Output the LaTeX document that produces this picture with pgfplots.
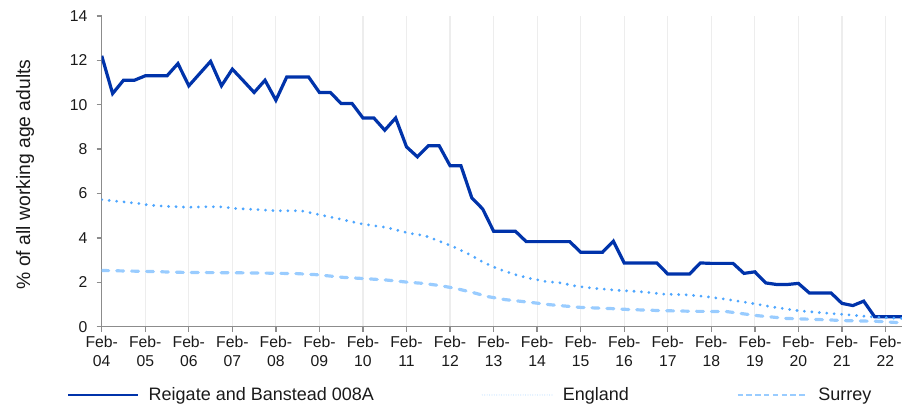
\documentclass[border=0pt]{standalone}
\usepackage{fontspec}
\setmainfont{Liberation Sans}
\usepackage{pgfplots}
\pgfplotsset{compat=1.18}
\definecolor{reig}{HTML}{0033AA}
\definecolor{eng}{HTML}{4DA6FF}
\definecolor{sur}{HTML}{99CCFF}
\definecolor{axgrey}{HTML}{8C8C8C}
\definecolor{gridc}{HTML}{EDEDED}
\definecolor{txt}{HTML}{1A1A1A}
\begin{document}
\begin{tikzpicture}
\begin{axis}[
  scale only axis, width=600.2pt, height=233.1pt,
  at={(0pt,0pt)}, anchor=south west,
  xmin=0, xmax=18.38, ymin=0, ymax=14,
  axis lines*=left,
  axis line style={axgrey, line width=1pt},
  tick style={axgrey, line width=1pt},
  tick align=outside, major tick length=3.8pt,
  xtick={0,1,...,18},
  xticklabels={{Feb-\\04},{Feb-\\05},{Feb-\\06},{Feb-\\07},{Feb-\\08},{Feb-\\09},{Feb-\\10},{Feb-\\11},{Feb-\\12},{Feb-\\13},{Feb-\\14},{Feb-\\15},{Feb-\\16},{Feb-\\17},{Feb-\\18},{Feb-\\19},{Feb-\\20},{Feb-\\21},{Feb-\\22}},
  xticklabel style={align=center, font=\fontsize{11.8}{14.2}\selectfont, text=txt},
  ytick={0,2,...,14},
  yticklabel style={font=\fontsize{11.8}{13}\selectfont, text=txt, xshift=-3.5pt},
  /pgf/number format/assume math mode=true,
  xmajorgrids, grid style={gridc, line width=0.9pt},
  ylabel={\% of all working age adults},
  ylabel style={at={(axis description cs:-0.0958,0.49)}, anchor=center, font=\fontsize{14.5}{16}\selectfont, text=txt},
  clip=true,
  legend image code/.code={\draw[#1] (0pt,0pt) -- (52.5pt,0pt);},
  legend columns=3,
  legend style={at={(-0.0434,-0.2198)}, anchor=west, draw=none, fill=none, inner sep=0pt,
    font=\fontsize{13.5}{15}\selectfont, text=txt,
    nodes={inner sep=0pt},
    /tikz/every odd column/.append style={column sep=7.5pt}},
  legend cell align=left,
]
\addplot[reig, line width=2.4pt, line join=miter, legend image post style={line width=1.1pt}] coordinates {
(0,12.2)(0.25,10.5)(0.5,11.1)(0.75,11.1)(1,11.3)(1.25,11.3)(1.5,11.3)(1.75,11.85)
(2,10.85)(2.25,11.4)(2.5,11.95)(2.75,10.85)(3,11.6)(3.25,11.08)(3.5,10.55)(3.75,11.1)
(4,10.2)(4.25,11.25)(4.5,11.25)(4.75,11.25)(5,10.55)(5.25,10.55)(5.5,10.05)(5.75,10.05)
(6,9.4)(6.25,9.4)(6.5,8.85)(6.75,9.4)(7,8.1)(7.25,7.65)(7.5,8.15)(7.75,8.15)
(8,7.25)(8.25,7.25)(8.5,5.8)(8.75,5.3)(9,4.3)(9.25,4.3)(9.5,4.3)(9.75,3.83)
(10,3.83)(10.25,3.83)(10.5,3.83)(10.75,3.83)(11,3.35)(11.25,3.35)(11.5,3.35)(11.75,3.85)
(12,2.87)(12.25,2.87)(12.5,2.87)(12.75,2.87)(13,2.37)(13.25,2.37)(13.5,2.37)(13.75,2.87)
(14,2.85)(14.25,2.85)(14.5,2.85)(14.75,2.4)(15,2.47)(15.25,1.97)(15.5,1.9)(15.75,1.9)
(16,1.95)(16.25,1.52)(16.5,1.52)(16.75,1.52)(17,1.05)(17.25,0.95)(17.5,1.15)(17.75,0.45)
(18,0.45)(18.25,0.45)(18.5,0.45)
};
\addlegendentry{\makebox[249.75pt][l]{Reigate and Banstead 008A}}
\addplot[eng, line width=2.3pt, line cap=round, dash pattern=on 0pt off 5.6pt,
  legend image post style={line width=0.9pt, dash pattern=on 0pt off 1.8pt, color=eng!35}] coordinates {
(0,5.72)(0.5,5.62)(0.92,5.53)(1.06,5.48)(1.5,5.42)(1.99,5.38)(2.4,5.40)(2.72,5.40)(3.10,5.32)
(3.5,5.28)(4.02,5.22)(4.57,5.22)(4.94,5.07)(5.46,4.85)(5.99,4.62)(6.54,4.47)
(7.08,4.2)(7.42,4.1)(7.77,3.84)(8.11,3.57)(8.46,3.24)(8.76,2.9)(9.11,2.6)
(9.45,2.37)(9.82,2.18)(10.18,2.04)(10.55,1.97)(10.91,1.82)(11.29,1.73)(11.83,1.64)
(12.36,1.58)(12.90,1.47)(13.47,1.43)(13.85,1.36)(14.39,1.22)(14.93,1.05)(15.46,0.87)
(16.00,0.72)(16.57,0.62)(17.11,0.54)(17.64,0.45)(18.18,0.39)(18.5,0.36)
};
\addlegendentry{\makebox[130.5pt][l]{England}}
\addplot[sur, line width=2.4pt, line cap=round, dash pattern=on 5.2pt off 6pt,
  legend image post style={line width=1.1pt, line cap=butt, dash pattern=on 4pt off 2.6pt}] coordinates {
(0,2.53)(1.03,2.49)(1.95,2.44)(2.95,2.43)(3.86,2.41)(4.48,2.39)(4.94,2.34)
(5.55,2.22)(6.08,2.16)(6.54,2.1)(7.04,2.0)(7.38,1.95)(7.77,1.85)(8.11,1.73)
(8.50,1.55)(8.88,1.35)(9.26,1.22)(9.91,1.08)(10.29,0.99)(10.98,0.87)(11.75,0.81)
(12.13,0.77)(12.90,0.72)(13.66,0.69)(14.35,0.68)(15.04,0.5)(15.73,0.37)(16.49,0.32)
(17.11,0.27)(17.80,0.24)(18.5,0.16)
};
\addlegendentry{Surrey}
\end{axis}
\pgfresetboundingbox
\path[use as bounding box] (-76.3pt,-59.5pt) rectangle (600.2pt,245.0pt);
\end{tikzpicture}
\end{document}
